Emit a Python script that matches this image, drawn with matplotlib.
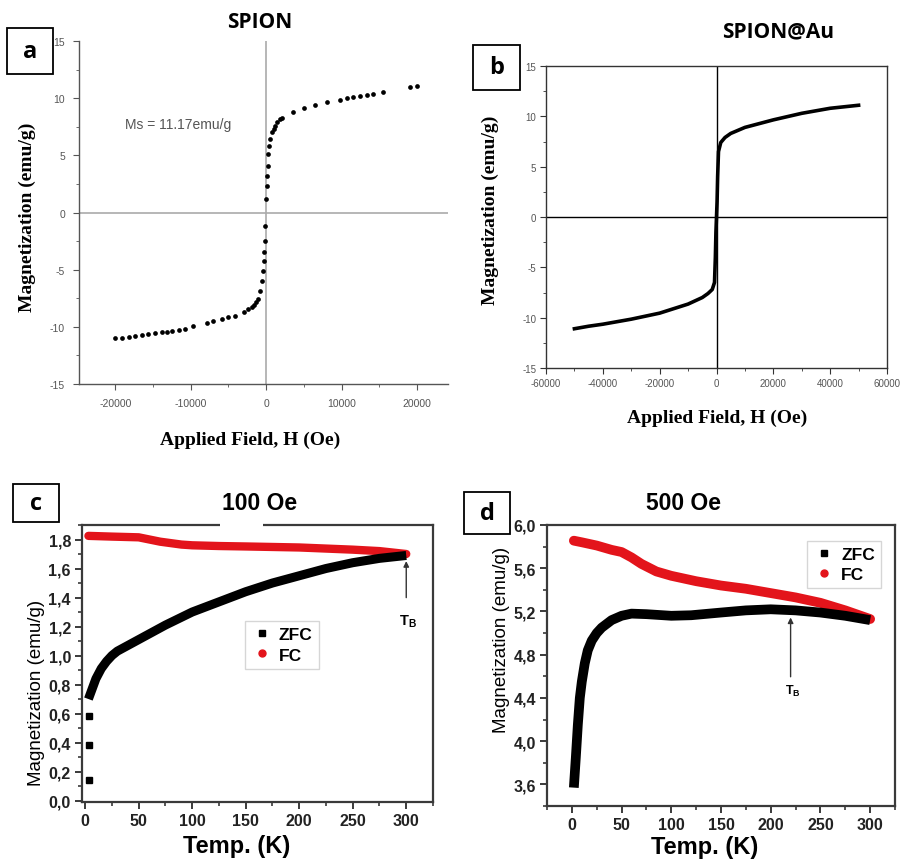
import matplotlib
matplotlib.use('Agg')
import matplotlib.pyplot as plt
from matplotlib.patches import Rectangle
from matplotlib.lines import Line2D
from matplotlib.ticker import MultipleLocator

# ---------------- data ----------------
# (a) SPION hysteresis (scatter)
H_a = [-20000, -19110, -18240, -17350, -16470, -15590, -14700, -13820, -13160, -12500,
       -11610, -10730, -9630, -7860, -6980, -5870, -4990, -4110, -3000, -2400,
       -1900, -1600, -1320, -1100, -880, -570, -440, -350, -260, -150,
       -100, 0, 90, 170, 265, 310, 440, 530, 750, 1000,
       1190, 1500, 1850, 2100, 3620, 5030, 6490, 8040, 9800, 10690,
       11570, 12450, 13340, 14220, 15540, 19070, 20040]
M_a = [-11.01, -10.96, -10.90, -10.81, -10.75, -10.66, -10.55, -10.43, -10.45, -10.34,
       -10.25, -10.20, -9.91, -9.67, -9.50, -9.32, -9.17, -9.03, -8.68, -8.45,
       -8.25, -8.10, -7.85, -7.57, -6.85, -5.97, -5.10, -4.22, -3.49, -2.47,
       -1.17, 1.17, 2.34, 3.22, 4.09, 5.11, 5.84, 6.43, 7.01, 7.30,
       7.59, 7.90, 8.18, 8.30, 8.76, 9.11, 9.40, 9.64, 9.87, 9.99,
       10.07, 10.16, 10.27, 10.36, 10.56, 10.95, 11.04]

# (b) SPION@Au hysteresis (line)
H_b = [-50000, -45000, -40000, -30000, -20000, -10000, -5000, -3000, -1500, -700,
       -400, -200, 0, 200, 400, 700, 1500, 3000, 5000, 10000,
       20000, 30000, 40000, 45000, 50000]
M_b = [-11.1, -10.85, -10.65, -10.15, -9.55, -8.65, -8.0, -7.6, -7.2, -6.5,
       -4.0, -1.5, 0.0, 1.5, 4.0, 6.5, 7.4, 7.9, 8.3, 8.9,
       9.65, 10.3, 10.8, 10.95, 11.1]

# (c) 100 Oe ZFC / FC
T_c_zfc_low = [4, 4, 4]
M_c_zfc_low = [0.14, 0.38, 0.58]
T_c_zfc = [3, 6, 10, 15, 20, 25, 30, 40, 50, 60, 75, 100, 125, 150, 175, 200, 225, 250, 275, 300]
M_c_zfc = [0.70, 0.76, 0.84, 0.91, 0.96, 1.00, 1.03, 1.07, 1.11, 1.15, 1.21, 1.30, 1.37, 1.44,
           1.50, 1.55, 1.60, 1.64, 1.67, 1.69]
T_c_fc = [3, 25, 50, 60, 70, 80, 90, 100, 125, 150, 200, 250, 275, 300]
M_c_fc = [1.825, 1.82, 1.815, 1.80, 1.785, 1.775, 1.765, 1.76, 1.755, 1.752, 1.745, 1.73, 1.72, 1.70]

# (d) 500 Oe ZFC / FC
T_d_zfc = [2, 4, 6, 8, 10, 13, 16, 20, 25, 30, 40, 50, 60, 75, 100, 120, 150, 175, 200, 225, 250, 275, 300]
M_d_zfc = [3.57, 3.85, 4.15, 4.40, 4.55, 4.72, 4.84, 4.93, 5.00, 5.05, 5.12, 5.16, 5.18, 5.175,
           5.16, 5.165, 5.19, 5.21, 5.22, 5.21, 5.19, 5.16, 5.12]
T_d_fc = [2, 10, 25, 40, 50, 60, 70, 85, 100, 125, 150, 175, 200, 225, 250, 275, 300]
M_d_fc = [5.855, 5.84, 5.81, 5.77, 5.75, 5.70, 5.64, 5.57, 5.53, 5.48, 5.44, 5.41, 5.37, 5.33,
          5.28, 5.21, 5.13]

# ticks
xt_a = [-20000, -10000, 0, 10000, 20000]
yt_ab = [-15, -10, -5, 0, 5, 10, 15]
xt_b = [-60000, -40000, -20000, 0, 20000, 40000, 60000]
xt_cd = [0, 50, 100, 150, 200, 250, 300]
yt_c = [0.0, 0.2, 0.4, 0.6, 0.8, 1.0, 1.2, 1.4, 1.6, 1.8]
yt_d = [3.6, 4.0, 4.4, 4.8, 5.2, 5.6, 6.0]

# ---------------- layout ----------------
W, H = 901, 862
fig = plt.figure(figsize=(W / 100, H / 100), dpi=100)
fig.patch.set_facecolor('white')

def rect(l, t, r, b):
    return [l / W, 1 - b / H, (r - l) / W, (b - t) / H]

def fx(px):
    return px / W

def fy(py):
    return 1 - py / H

SANS = ['Liberation Sans', 'DejaVu Sans']
SERIF = ['Liberation Serif', 'DejaVu Serif']
TITLE = ['Open Sans', 'DejaVu Sans']
RED = '#e3141b'

def label_box(l, t, r, b, letter):
    fig.add_artist(Rectangle((fx(l), fy(b)), (r - l) / W, (b - t) / H, transform=fig.transFigure,
                             facecolor='white', edgecolor='black', lw=1.3, zorder=5))
    fig.text(fx((l + r) / 2), fy((t + b) / 2), letter, ha='center', va='center',
             fontsize=17, fontweight='bold', family=TITLE, zorder=6)

# ---------------- (a) ----------------
axa = fig.add_axes(rect(79, 42, 448, 385))
axa.plot(H_a, M_a, 'o', color='black', ms=3.4, mec='none', zorder=3)
axa.axhline(0, color='#aaaaaa', lw=1.2, zorder=1)
axa.axvline(0, color='#aaaaaa', lw=1.2, zorder=1)
axa.set_xlim(-24800, 24100)
axa.set_ylim(-15, 15)
for s in ['top', 'right']:
    axa.spines[s].set_visible(False)
for s in ['left', 'bottom']:
    axa.spines[s].set_color('#555555')
    axa.spines[s].set_linewidth(1.0)
axa.set_xticks(xt_a, labels=[str(v) for v in xt_a], fontsize=7.5, color='#555555', family=SANS)
axa.set_yticks(yt_ab, labels=[str(v) for v in yt_ab], fontsize=7.5, color='#555555', family=SANS)
axa.xaxis.set_minor_locator(MultipleLocator(5000))
axa.yaxis.set_minor_locator(MultipleLocator(2.5))
axa.tick_params(which='major', direction='out', length=4, color='#555555', pad=6)
axa.tick_params(which='minor', direction='out', length=2.5, color='#555555')
axa.text(-18700, 7.74, 'Ms = 11.17emu/g', fontsize=10, color='#555555', va='center', ha='left', family=SANS)

fig.text(fx(260), fy(22), 'SPION', ha='center', va='center', fontsize=15, fontweight='bold', family=TITLE)
fig.text(fx(250), fy(440), 'Applied Field, H (Oe)', ha='center', va='center', fontsize=14,
         fontweight='bold', family=SERIF)
fig.text(fx(27), fy(217), 'Magnetization (emu/g)', ha='center', va='center', fontsize=14,
         fontweight='bold', family=SERIF, rotation=90)
label_box(7, 29, 53, 75, 'a')

# ---------------- (b) ----------------
axb = fig.add_axes(rect(546, 67, 887, 369))
axb.plot(H_b, M_b, '-', color='black', lw=2.6, zorder=3)
axb.axhline(0, color='black', lw=1.0, zorder=1)
axb.axvline(0, color='black', lw=1.0, zorder=1)
axb.set_xlim(-60000, 60000)
axb.set_ylim(-15, 15)
for s in axb.spines.values():
    s.set_color('#333333')
    s.set_linewidth(1.0)
axb.set_xticks(xt_b, labels=[str(v) for v in xt_b], fontsize=7, color='#555555', family=SANS)
axb.set_yticks(yt_ab, labels=[str(v) for v in yt_ab], fontsize=7, color='#555555', family=SANS)
axb.xaxis.set_minor_locator(MultipleLocator(10000))
axb.yaxis.set_minor_locator(MultipleLocator(2.5))
axb.tick_params(which='major', direction='out', length=4, color='#333333', pad=3)
axb.tick_params(which='minor', direction='out', length=2.5, color='#333333')

fig.text(fx(778), fy(32), 'SPION@Au', ha='center', va='center', fontsize=15, fontweight='bold', family=TITLE)
fig.text(fx(717), fy(418), 'Applied Field, H (Oe)', ha='center', va='center', fontsize=14,
         fontweight='bold', family=SERIF)
fig.text(fx(490), fy(210), 'Magnetization (emu/g)', ha='center', va='center', fontsize=14,
         fontweight='bold', family=SERIF, rotation=90)
label_box(473, 46, 520, 91, 'b')

# ---------------- (c) / (d) common ----------------
def style_cd(ax, yt, fmt):
    for s in ax.spines.values():
        s.set_color('#3a3a3a')
        s.set_linewidth(1.6)
    ax.set_xticks(xt_cd, labels=[str(v) for v in xt_cd], fontsize=11.5, fontweight='bold',
                  color='#222222', family=SANS)
    ax.set_yticks(yt, labels=[fmt.format(v).replace('.', ',') for v in yt], fontsize=11.5,
                  fontweight='bold', color='#222222', family=SANS)
    ax.xaxis.set_minor_locator(MultipleLocator(25))
    ax.tick_params(which='major', direction='out', length=5, width=1.4, color='#3a3a3a', pad=3)
    ax.tick_params(which='minor', direction='out', length=3, width=1.2, color='#3a3a3a')

def legend_cd(ax, anchor, loc):
    handles = [Line2D([], [], marker='s', color='black', ls='none', ms=4.5, label='ZFC'),
               Line2D([], [], marker='o', color=RED, ls='none', ms=5, label='FC')]
    leg = ax.legend(handles=handles, loc=loc, bbox_to_anchor=anchor, frameon=True, fancybox=False,
                    prop={'family': SANS, 'weight': 'bold', 'size': 12.5}, handletextpad=0.4,
                    handlelength=1.2, borderpad=0.35, labelspacing=0.3)
    leg.get_frame().set_edgecolor('#cccccc')
    leg.get_frame().set_linewidth(1.0)

# ---------------- (c) ----------------
axc = fig.add_axes(rect(82, 526, 433, 803))
axc.plot(T_c_fc, M_c_fc, '-', color=RED, lw=6, solid_capstyle='round', zorder=2)
axc.plot(T_c_zfc, M_c_zfc, '-', color='black', lw=6.5, solid_capstyle='butt', zorder=3)
axc.plot(T_c_zfc_low, M_c_zfc_low, 's', color='black', ms=4, zorder=3)
axc.set_xlim(-3, 325)
axc.set_ylim(-0.01, 1.9)
axc.yaxis.set_minor_locator(MultipleLocator(0.1))
style_cd(axc, yt_c, '{:.1f}')
legend_cd(axc, (0.44, 0.685), 'upper left')
axc.annotate('', xy=(300, 1.67), xytext=(300, 1.38),
             arrowprops=dict(arrowstyle='-|>', color='#333333', lw=1.0, mutation_scale=8))
axc.text(302, 1.24, r'T$_\mathregular{B}$', ha='center', va='center', fontsize=10.5, fontweight='bold',
         family=SANS)

fig.add_artist(Rectangle((fx(220), fy(530)), 43 / W, 8 / H, transform=fig.transFigure,
                         facecolor='white', edgecolor='none', zorder=8))
fig.text(fx(260), fy(503), '100 Oe', ha='center', va='center', fontsize=16.5, fontweight='bold', family=SANS)
fig.text(fx(237), fy(847), 'Temp. (K)', ha='center', va='center', fontsize=17, fontweight='bold', family=SANS)
fig.text(fx(37), fy(693), 'Magnetization (emu/g)', ha='center', va='center', fontsize=13.5,
         family=SANS, rotation=90)
label_box(13, 485, 59, 523, 'c')

# ---------------- (d) ----------------
axd = fig.add_axes(rect(547, 526, 895, 807))
axd.plot(T_d_fc, M_d_fc, '-', color=RED, lw=7, solid_capstyle='round', zorder=2)
axd.plot(T_d_zfc, M_d_zfc, '-', color='black', lw=7, solid_capstyle='butt', zorder=3)
axd.set_xlim(-25, 325)
axd.set_ylim(3.4, 6.0)
axd.yaxis.set_minor_locator(MultipleLocator(0.2))
style_cd(axd, yt_d, '{:.1f}')
legend_cd(axd, (0.985, 0.975), 'upper right')
axd.annotate('', xy=(220, 5.17), xytext=(220, 4.57),
             arrowprops=dict(arrowstyle='-|>', color='#333333', lw=1.0, mutation_scale=8))
axd.text(222, 4.47, r'T$_\mathregular{B}$', ha='center', va='center', fontsize=9, fontweight='bold',
         family=SANS)

fig.text(fx(683), fy(503), '500 Oe', ha='center', va='center', fontsize=16.5, fontweight='bold', family=SANS)
fig.text(fx(705), fy(848), 'Temp. (K)', ha='center', va='center', fontsize=17, fontweight='bold', family=SANS)
fig.text(fx(502), fy(640), 'Magnetization (emu/g)', ha='center', va='center', fontsize=13.5,
         family=SANS, rotation=90)
label_box(464, 493, 510, 535, 'd')

fig.savefig('out.png', dpi=100, facecolor='white')
